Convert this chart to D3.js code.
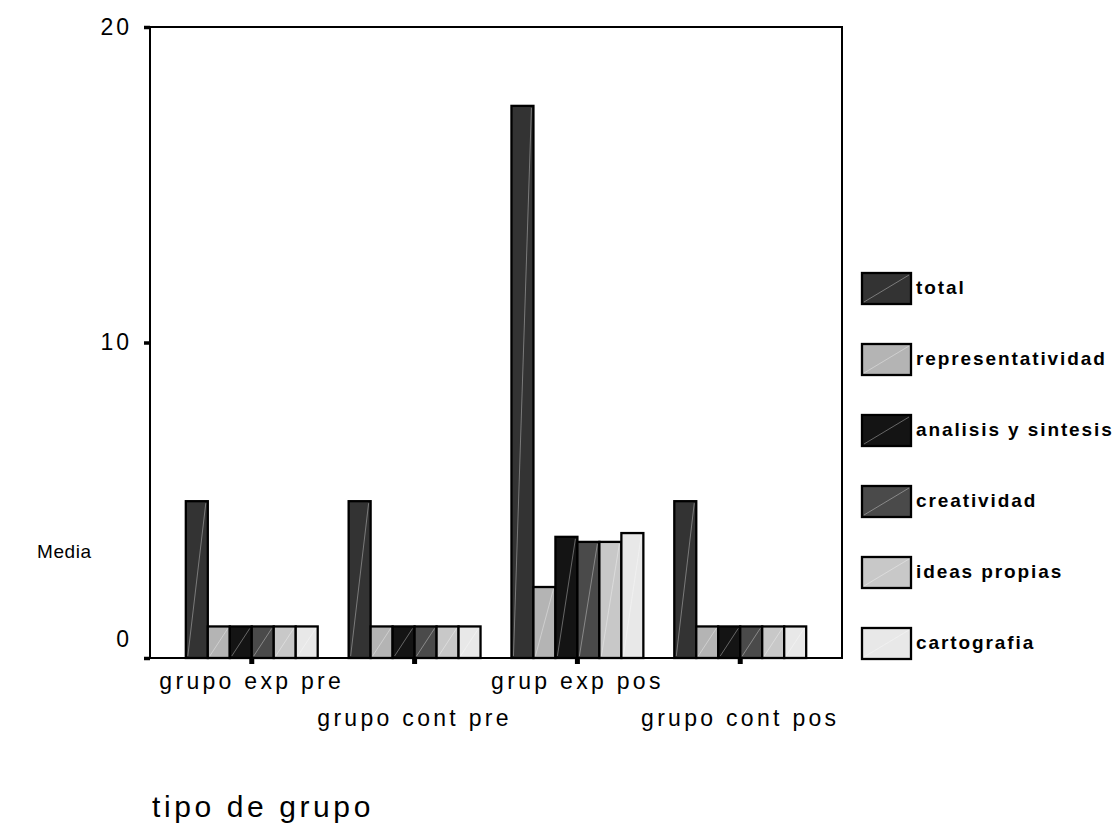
<!DOCTYPE html>
<html><head><meta charset="utf-8">
<script src="https://cdn.jsdelivr.net/npm/d3@7"></script>
<style>body{margin:0;background:#fff;}svg{display:block;}</style>
</head><body>
<script>
const groups = ["grupo exp pre","grupo cont pre","grup exp pos","grupo cont pos"];
const seriesNames = ["total","representatividad","analisis y sintesis","creatividad","ideas propias","cartografia"];
const total = [4.97, 4.97, 17.5, 4.97];
const representatividad = [1, 1, 2.25, 1];
const analisisYSintesis = [1, 1, 3.84, 1];
const creatividad = [1, 1, 3.68, 1];
const ideasPropias = [1, 1, 3.68, 1];
const cartografia = [1, 1, 3.96, 1];
const yTicks = [0, 10, 20];
const seriesColors = ["#333333","#b4b4b4","#141414","#4a4a4a","#c8c8c8","#e8e8e8"];

const seriesValues = [total, representatividad, analisisYSintesis, creatividad, ideasPropias, cartografia];
const W = 1120, H = 827;
const mLeft = 150, mRight = 842, mTop = 27, mBottom = 658;
const font = "Arial, 'Liberation Sans', sans-serif";

const svg = d3.select("body").append("svg").attr("width", W).attr("height", H);

const y = d3.scaleLinear().domain([0, 20]).range([mBottom, mTop]);
const x0 = d3.scaleBand().domain(groups).range([mLeft, mRight]).paddingInner(0.19).paddingOuter(0.22);
const x1 = d3.scaleBand().domain(seriesNames).range([0, x0.bandwidth()]).padding(0);

// bars
const data = [];
groups.forEach((g, gi) => seriesNames.forEach((s, si) => data.push({g, s, si, v: seriesValues[si][gi]})));

const bars = svg.append("g");
bars.selectAll("rect").data(data).join("rect")
  .attr("x", d => x0(d.g) + x1(d.s))
  .attr("y", d => y(d.v))
  .attr("width", x1.bandwidth())
  .attr("height", d => y(0) - y(d.v))
  .attr("fill", d => seriesColors[d.si])
  .attr("stroke", "#000").attr("stroke-width", 2.3);
bars.selectAll("line").data(data).join("line")
  .attr("x1", d => x0(d.g) + x1(d.s) + 2)
  .attr("y1", d => y(0) - 2)
  .attr("x2", d => x0(d.g) + x1(d.s) + x1.bandwidth() - 2)
  .attr("y2", d => y(d.v) + 2)
  .attr("stroke", "#ffffff").attr("stroke-opacity", 0.35).attr("stroke-width", 1);

// frame
svg.append("rect").attr("x", mLeft).attr("y", mTop).attr("width", mRight - mLeft).attr("height", mBottom - mTop)
  .attr("fill", "none").attr("stroke", "#000").attr("stroke-width", 2);

// y axis
const yAxis = d3.axisLeft(y).tickValues(yTicks).tickSize(6).tickPadding(12).tickFormat(d3.format("d"));
const ya = svg.append("g").attr("transform", `translate(${mLeft},0)`).call(yAxis);
ya.select(".domain").remove();
ya.selectAll(".tick line").attr("stroke", "#000").attr("stroke-width", 3.5);
ya.selectAll(".tick text").attr("font-family", font).attr("font-size", 23).attr("fill", "#000")
  .attr("letter-spacing", 3).attr("dy", d => d === 0 ? "-0.5em" : "0.32em");

// x axis
const xAxis = d3.axisBottom(x0).tickSize(6).tickPadding(0);
const xa = svg.append("g").attr("transform", `translate(0,${mBottom})`).call(xAxis);
xa.select(".domain").remove();
xa.selectAll(".tick line").attr("stroke", "#000").attr("stroke-width", 5);
xa.selectAll(".tick text").attr("font-family", font).attr("font-size", 23).attr("fill", "#000")
  .attr("letter-spacing", 3.3)
  .attr("y", (d, i) => i % 2 === 0 ? 31 : 68).attr("dy", 0);

// axis titles
svg.append("text").attr("x", 37).attr("y", 558).attr("font-family", font).attr("font-size", 19)
  .attr("letter-spacing", 0.6).text("Media");
svg.append("text").attr("x", 152).attr("y", 817).attr("font-family", font).attr("font-size", 30)
  .attr("letter-spacing", 3.6).text("tipo de grupo");

// legend
const legY = d3.scalePoint().domain(seriesNames).range([288, 643]);
const leg = svg.append("g");
const items = leg.selectAll("g").data(seriesNames).join("g")
  .attr("transform", d => `translate(862,${legY(d)})`);
items.append("rect").attr("x", 0).attr("y", -15).attr("width", 49).attr("height", 31)
  .attr("fill", (d, i) => seriesColors[i]).attr("stroke", "#000").attr("stroke-width", 2.3);
items.append("line").attr("x1", 2).attr("y1", 14).attr("x2", 47).attr("y2", -13)
  .attr("stroke", "#fff").attr("stroke-opacity", 0.35).attr("stroke-width", 1);
items.append("text").attr("x", 54).attr("y", 6).attr("font-family", font).attr("font-size", 19)
  .attr("font-weight", "bold").attr("letter-spacing", 1.9).text(d => d);
</script>
</body></html>
